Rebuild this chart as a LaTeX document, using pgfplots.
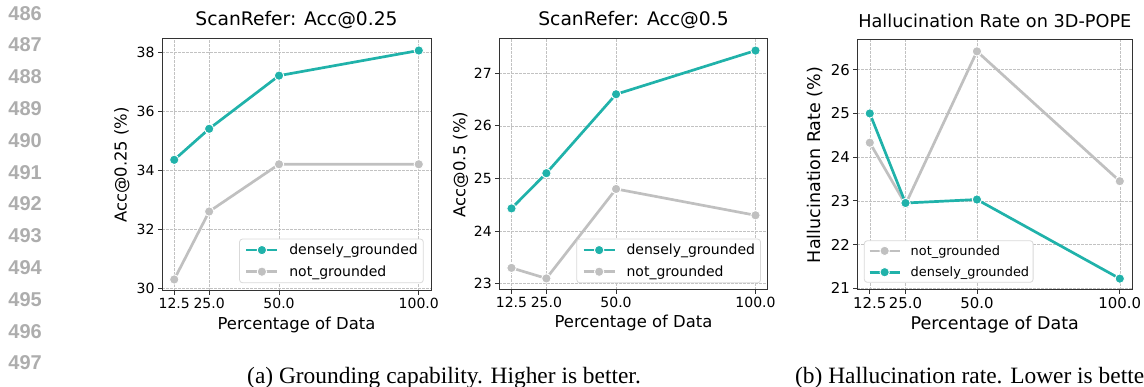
\documentclass[border=0pt]{standalone}
\usepackage{fontspec}
\setmainfont{DejaVu Sans}
\newfontfamily\lnfont{Liberation Sans}
\newfontfamily\capfont{Liberation Serif}
\usepackage{pgfplots}
\pgfplotsset{compat=1.18}
\definecolor{teal1}{RGB}{32,178,170}
\definecolor{silv}{RGB}{192,192,192}
\definecolor{framec}{RGB}{51,51,51}
\pgfplotsset{
 myaxis/.style={
  scale only axis,
  xmin=8.125, xmax=104.375,
  xtick={12.5,25,50,100},
  xticklabels={12.5,25.0,50.0,100.0},
  tick pos=left, tick align=outside,
  major tick length=4pt,
  tick style={framec, line width=0.8pt},
  axis line style={framec, line width=1pt},
  grid=major,
  major grid style={black!24, line width=0.6pt, dash pattern=on 2.5pt off 1.5pt},
  /pgf/number format/assume math mode=true,
  ticklabel style={font=\fontsize{14}{16}\selectfont},
  label style={font=\fontsize{16.4}{19}\selectfont},
  title style={font=\fontsize{18.7}{22}\selectfont, anchor=center},
  legend cell align=left,
  legend style={font=\fontsize{14}{16}\selectfont, draw=black!15, rounded corners=3pt, fill=white,
     inner xsep=5.5pt, inner ysep=5pt, row sep=9.5pt, line width=0.8pt,
     nodes={inner sep=0pt},
     /tikz/every odd column/.append style={column sep=10.6pt}},
  legend image code/.code={\draw[mark repeat=2,mark phase=2,#1] plot coordinates {(0pt,0pt) (15.5pt,0pt) (31pt,0pt)};},
 },
 dense/.style={teal1, line width=2.7pt, line join=round, mark=*, mark size=4.7pt, mark options={draw=white, fill=teal1, line width=0.9pt}},
 notg/.style={silv, line width=2.7pt, line join=round, mark=*, mark size=4.7pt, mark options={draw=white, fill=silv, line width=0.9pt}},
}
\begin{document}
\begin{tikzpicture}
\useasboundingbox (0,0) rectangle (1144pt,387pt);
\clip (0,0) rectangle (1144pt,387pt);
\foreach \i/\n in {0/486,1/487,2/488,3/489,4/490,5/491,6/492,7/493,8/494,9/495,10/496,11/497}
  \node[anchor=east, inner sep=0pt, text=black!32, font=\lnfont\bfseries\fontsize{20}{20}\selectfont] at (42pt,{(373.7-31.8*\i)*1pt}) {\n};
\node[anchor=base, inner sep=0pt, font=\capfont\fontsize{23.4}{26}\selectfont] at (444pt,3pt) {(a) Grounding capability. Higher is better.};
\node[anchor=base west, inner sep=0pt, font=\capfont\fontsize{23.4}{26}\selectfont] at (795pt,3pt) {(b) Hallucination rate. Lower is better.};

\begin{axis}[myaxis, at={(162pt,96pt)}, anchor=south west, width=269pt, height=252pt,
  ymin=29.91, ymax=38.44, ytick={30,32,34,36,38},
  ylabel={Acc@0.25 (\%)}, xlabel={Percentage of Data}, title={ScanRefer: Acc@0.25},
  ylabel style={at={(axis description cs:-0.149,0.5)}, anchor=center},
  xlabel style={at={(axis description cs:0.5,-0.135)}, anchor=center},
  title style={at={(axis description cs:0.5,1.053)}},
  legend style={at={(0.973,0.031)}, anchor=south east}]
\addplot[dense] coordinates {(12.5,34.35) (25,35.4) (50,37.2) (100,38.05)};
\addlegendentry{densely\_grounded}
\addplot[notg] coordinates {(12.5,30.3) (25,32.6) (50,34.2) (100,34.2)};
\addlegendentry{not\_grounded}
\end{axis}

\begin{axis}[myaxis, at={(499.3pt,97pt)}, anchor=south west, width=268.4pt, height=251pt,
  ymin=22.88, ymax=27.65, ytick={23,24,25,26,27},
  ylabel={Acc@0.5 (\%)}, xlabel={Percentage of Data}, title={ScanRefer: Acc@0.5},
  ylabel style={at={(axis description cs:-0.144,0.5)}, anchor=center},
  xlabel style={at={(axis description cs:0.5,-0.133)}, anchor=center},
  title style={at={(axis description cs:0.5,1.053)}},
  legend style={at={(0.975,0.027)}, anchor=south east}]
\addplot[dense] coordinates {(12.5,24.43) (25,25.1) (50,26.6) (100,27.43)};
\addlegendentry{densely\_grounded}
\addplot[notg] coordinates {(12.5,23.3) (25,23.1) (50,24.8) (100,24.3)};
\addlegendentry{not\_grounded}
\end{axis}

\begin{axis}[myaxis, at={(857.3pt,97pt)}, anchor=south west, width=275pt, height=250pt,
  ymin=20.96, ymax=26.68, ytick={21,22,23,24,25,26},
  ticklabel style={font=\fontsize{14.9}{17}\selectfont},
  label style={font=\fontsize{17.5}{20}\selectfont},
  title style={font=\fontsize{17.7}{21}\selectfont},
  legend style={font=\fontsize{12.9}{15}\selectfont, inner xsep=4pt, inner ysep=4.5pt, row sep=10pt,
     /tikz/every odd column/.append style={column sep=9.7pt}},
  legend image code/.code={\draw[mark repeat=2,mark phase=2,#1] plot coordinates {(0pt,0pt) (15pt,0pt) (30pt,0pt)};},
  ylabel={Hallucination Rate (\%)}, xlabel={Percentage of Data}, title={Hallucination Rate on 3D-POPE},
  ylabel style={at={(axis description cs:-0.154,0.5)}, anchor=center},
  xlabel style={at={(axis description cs:0.5,-0.14)}, anchor=center},
  title style={at={(axis description cs:0.5,1.053)}},
  legend style={at={(0.024,0.029)}, anchor=south west}]
\addplot[notg] coordinates {(12.5,24.33) (25,22.92) (50,26.42) (100,23.45)};
\addlegendentry{not\_grounded}
\addplot[dense] coordinates {(12.5,25.0) (25,22.95) (50,23.03) (100,21.22)};
\addlegendentry{densely\_grounded}
\end{axis}
\end{tikzpicture}
\end{document}
